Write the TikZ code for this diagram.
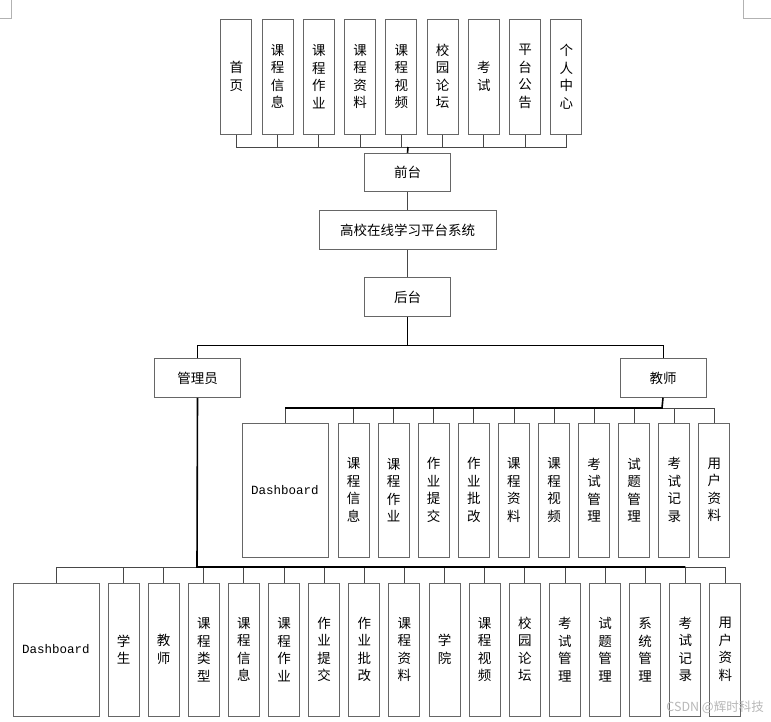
\documentclass[tikz,border=0pt]{standalone}
\usepackage{fontspec}
\newfontfamily\cjk{Noto Sans CJK SC}
\newfontfamily\monof{Liberation Mono}
\begin{document}
\begin{tikzpicture}[x=1pt,y=-1pt,
  box/.style={draw=black!60, line width=1pt, fill=white, inner sep=0pt, align=center,
    font=\cjk\fontsize{13.5}{17.5}\selectfont},
  hbox/.style={box, minimum width=86pt, minimum height=38.5pt},
  vbox/.style={box, minimum width=31pt},
  dbox/.style={box, minimum width=86pt, font=\monof\fontsize{12.5}{15}\selectfont},
  conn/.style={draw=black!72, line width=0.8pt},
  darkconn/.style={draw=black, line width=0.9pt},
  trunk/.style={draw=black, line width=1.6pt},
  cornermark/.style={draw=black!30, line width=0.6pt}]
\useasboundingbox (0,0) rectangle (771,721);
\fill[white] (0,0) rectangle (771,721);
% page corner marks
\coordinate (m1) at (11.7,0); \coordinate (m2) at (11.7,18.3); \coordinate (m3) at (0,18.3);
\draw[cornermark] (m1) -- (m2) -- (m3);
\coordinate (m4) at (743.3,0); \coordinate (m5) at (743.3,18.3); \coordinate (m6) at (771,18.3);
\draw[cornermark] (m4) -- (m5) -- (m6);

% top row
\foreach \i/\t in {1/{首\\页},2/{课\\程\\信\\息},3/{课\\程\\作\\业},4/{课\\程\\资\\料},5/{课\\程\\视\\频},6/{校\\园\\论\\坛},7/{考\\试},8/{平\\台\\公\\告},9/{个\\人\\中\\心}}
  \node[vbox, minimum height=115pt] (f\i) at ({236.3+41.25*(\i-1)},76.5) {\t};

\node[hbox] (qt) at (407.5,172.5) {前台};
\node[box, minimum width=177pt, minimum height=38.5pt] (sys) at (407.5,230) {高校在线学习平台系统};
\node[hbox] (ht) at (407.5,297) {后台};
\node[hbox] (adm) at (197.5,378) {管理员};
\node[hbox] (tea) at (663,378) {教师};

\coordinate (busTop) at (408,147);
\foreach \i in {1,...,9} \draw[conn] (f\i.south) |- (busTop);
\draw[trunk] (busTop) -- (qt.north);
\draw[conn] (qt.south) -- (sys.north);
\draw[conn] (sys.south) -- (ht.north);
\coordinate (busR) at (407.5,345);
\draw[darkconn] (ht.south) -- (busR);
\draw[darkconn] (adm.north) |- (busR);
\draw[darkconn] (tea.north) |- (busR);

% teacher children
\node[dbox, minimum height=134pt] (tc0) at (285,490) {Dashboard};
\foreach \i/\t in {1/{课\\程\\信\\息},2/{课\\程\\作\\业},3/{作\\业\\提\\交},4/{作\\业\\批\\改},5/{课\\程\\资\\料},6/{课\\程\\视\\频},7/{考\\试\\管\\理},8/{试\\题\\管\\理},9/{考\\试\\记\\录},10/{用\\户\\资\\料}}
  \node[vbox, minimum height=134pt] (tc\i) at ({353.5+40.1*(\i-1)},490) {\t};
\coordinate (busT) at (662,408);
\foreach \i in {0,...,10} \draw[conn] (tc\i.north) |- (busT);
\draw[trunk] (tea.south) -- (busT) -- (tc0.north |- busT);

% admin children
\node[dbox, minimum height=133pt] (ac0) at (56,649.5) {Dashboard};
\foreach \i/\t in {1/{学\\生},2/{教\\师},3/{课\\程\\类\\型},4/{课\\程\\信\\息},5/{课\\程\\作\\业},6/{作\\业\\提\\交},7/{作\\业\\批\\改},8/{课\\程\\资\\料},9/{学\\院},10/{课\\程\\视\\频},11/{校\\园\\论\\坛},12/{考\\试\\管\\理},13/{试\\题\\管\\理},14/{系\\统\\管\\理},15/{考\\试\\记\\录},16/{用\\户\\资\\料}}
  \node[vbox, minimum height=133pt] (ac\i) at ({123.5+40.13*(\i-1)},649.5) {\t};
\coordinate (busA) at (197,567);
\foreach \i in {0,...,16} \draw[conn] (ac\i.north) |- (busA);
\draw[trunk] (adm.south) -- (busA) -- (ac15.north |- busA);

% watermark
\node[text=black!28, font=\cjk\fontsize{12.5}{14}\selectfont, anchor=east, inner sep=0pt] (wm) at (764,707) {CSDN @辉时科技};
\end{tikzpicture}
\end{document}
